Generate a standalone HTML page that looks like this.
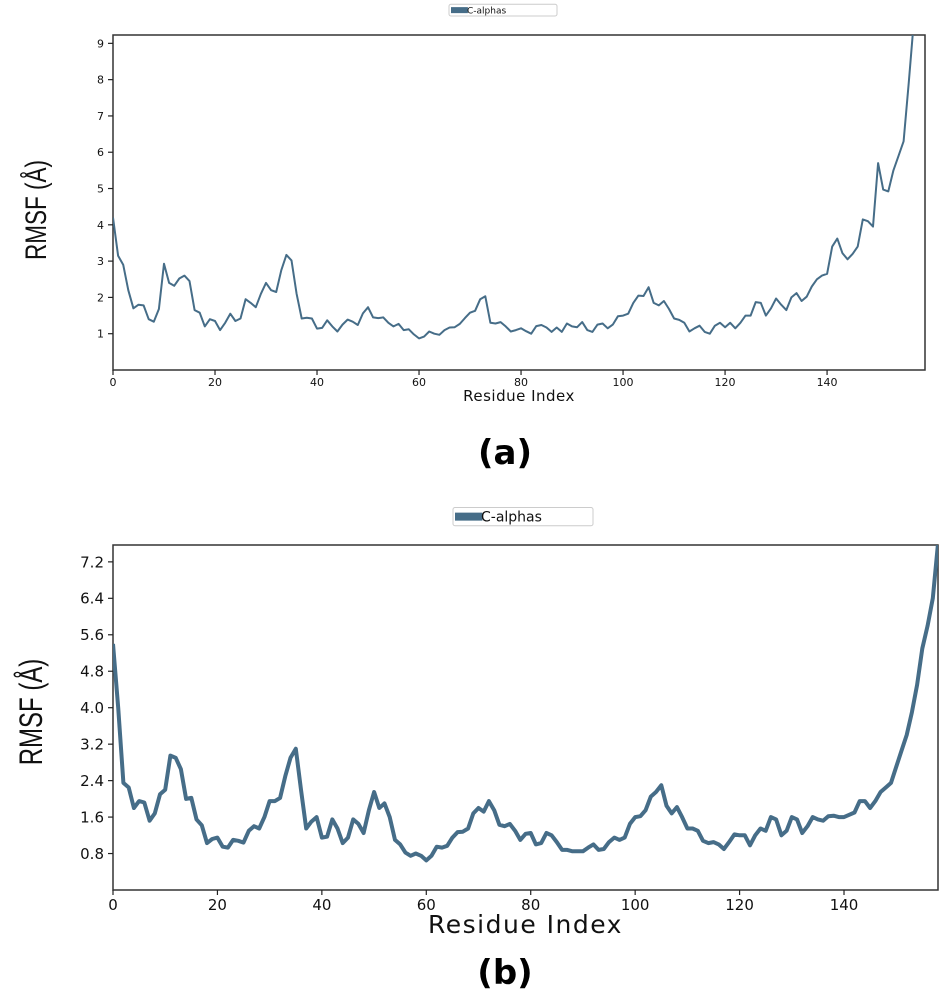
<!DOCTYPE html>
<html><head><meta charset="utf-8"><style>
body{margin:0;background:#fff;width:952px;height:998px;overflow:hidden}
svg{display:block;font-family:"DejaVu Sans","Liberation Sans",sans-serif}
</style></head><body>
<svg id="s" width="952" height="998">
<defs>
<clipPath id="ca"><rect x="113" y="35" width="812" height="335"/></clipPath>
<clipPath id="cb"><rect x="113" y="545" width="825" height="345"/></clipPath>
</defs>
<g id="ga"></g>
<g id="gb"></g>
<text x="505" y="464" font-size="34" font-weight="bold" text-anchor="middle">(a)</text>
<text x="505" y="984" font-size="34" font-weight="bold" text-anchor="middle">(b)</text>
</svg>
<script>
const seriesA=[4.2,3.15,2.9,2.2,1.7,1.8,1.78,1.4,1.33,1.68,2.93,2.4,2.32,2.52,2.6,2.45,1.65,1.58,1.2,1.4,1.35,1.1,1.3,1.55,1.35,1.42,1.95,1.85,1.73,2.1,2.4,2.2,2.15,2.75,3.17,3.02,2.1,1.42,1.44,1.42,1.14,1.16,1.37,1.2,1.06,1.25,1.39,1.33,1.24,1.56,1.73,1.45,1.43,1.45,1.3,1.2,1.27,1.1,1.12,0.98,0.87,0.92,1.06,1.0,0.97,1.1,1.17,1.18,1.27,1.43,1.58,1.63,1.95,2.03,1.3,1.28,1.32,1.2,1.06,1.1,1.15,1.07,1.0,1.21,1.24,1.17,1.05,1.17,1.05,1.28,1.2,1.18,1.32,1.1,1.05,1.25,1.28,1.15,1.25,1.48,1.5,1.55,1.85,2.05,2.04,2.28,1.85,1.78,1.9,1.68,1.42,1.38,1.3,1.06,1.15,1.22,1.05,1.0,1.22,1.3,1.18,1.3,1.15,1.3,1.5,1.5,1.87,1.85,1.5,1.7,1.97,1.8,1.65,2.0,2.12,1.9,2.02,2.3,2.5,2.6,2.65,3.4,3.62,3.22,3.05,3.2,3.4,4.15,4.1,3.95,5.7,4.97,4.92,5.5,5.9,6.3,7.9,9.6];
const seriesB=[5.4,4.0,2.35,2.25,1.8,1.95,1.92,1.52,1.68,2.1,2.2,2.95,2.9,2.65,2.0,2.02,1.55,1.42,1.03,1.12,1.15,0.95,0.93,1.1,1.08,1.04,1.3,1.4,1.35,1.6,1.95,1.95,2.02,2.5,2.9,3.1,2.2,1.35,1.5,1.6,1.15,1.17,1.55,1.35,1.03,1.15,1.55,1.45,1.25,1.75,2.15,1.8,1.9,1.6,1.1,1.0,0.82,0.75,0.8,0.75,0.65,0.75,0.95,0.93,0.97,1.15,1.27,1.28,1.35,1.68,1.8,1.72,1.95,1.75,1.43,1.4,1.45,1.3,1.1,1.23,1.25,1.0,1.03,1.25,1.2,1.05,0.88,0.88,0.85,0.85,0.85,0.93,1.0,0.88,0.9,1.05,1.15,1.1,1.15,1.45,1.6,1.62,1.75,2.05,2.15,2.3,1.85,1.68,1.82,1.6,1.35,1.35,1.3,1.08,1.03,1.05,1.0,0.9,1.05,1.22,1.2,1.2,0.98,1.2,1.35,1.3,1.6,1.55,1.2,1.3,1.6,1.55,1.25,1.4,1.6,1.55,1.52,1.62,1.63,1.6,1.6,1.65,1.7,1.95,1.95,1.8,1.95,2.15,2.25,2.35,2.7,3.05,3.4,3.9,4.5,5.3,5.8,6.4,7.6];
const xTicksA=[0,20,40,60,80,100,120,140];
const yTicksA=[1,2,3,4,5,6,7,8,9];
const xTicksB=[0,20,40,60,80,100,120,140];
const yTicksB=[0.8,1.6,2.4,3.2,4.0,4.8,5.6,6.4,7.2];
const NS="http://www.w3.org/2000/svg";
function mk(p,t,a){const e=document.createElementNS(NS,t);for(const k in a)e.setAttribute(k,a[k]);p.appendChild(e);return e;}
function draw(g,cfg){
  const {L,T,R,B,xmin,xmax,ymin,ymax,data,xt,yt,fs,tfs,lw,clip,dec,legY,legX,legFs}=cfg;
  const X=v=>L+((v-xmin)/(xmax-xmin))*(R-L), Y=v=>B-(v-ymin)/(ymax-ymin)*(B-T);
  const fr=mk(g,'rect',{x:L,y:T,width:R-L,height:B-T,fill:'none',stroke:'#333','stroke-width':1.5});
  
  
  xt.forEach(v=>{
    mk(g,'line',{x1:X(v),x2:X(v),y1:B,y2:B+5,stroke:'#222','stroke-width':1.2});
    const t=mk(g,'text',{x:X(v),y:B+5+fs,'font-size':fs,'text-anchor':'middle',fill:'#111'});
    t.textContent=v;
    
    
  });
  yt.forEach(v=>{
    mk(g,'line',{x1:L-5,x2:L,y1:Y(v),y2:Y(v),stroke:'#222','stroke-width':1.2});
    const t=mk(g,'text',{x:L-9,y:Y(v)+fs*0.36,'font-size':fs,'text-anchor':'end',fill:'#111'});
    t.textContent=v.toFixed(dec);
    
    
  });
  const pts=data.map((v,i)=>X(i).toFixed(1)+','+Y(v).toFixed(1)).join(' ');
  const pl=mk(g,'polyline',{points:pts,fill:'none',stroke:'#466d88','stroke-width':lw,'stroke-linejoin':'round','clip-path':'url(#'+clip+')'});
  
  
  const xl=mk(g,'text',{x:(L+R)/2,y:cfg.xtY,'font-size':tfs,'text-anchor':'middle',fill:'#111','letter-spacing':cfg.ls});
  xl.textContent='Residue Index';
  
  
  const yl=mk(g,'text',{x:0,y:0,'font-size':cfg.yfs,'text-anchor':'middle',fill:'#111',transform:`translate(${cfg.ytX},${cfg.ytY}) rotate(-90) scale(0.75,1)`,'font-family':'"Liberation Sans",sans-serif'});
  yl.textContent='RMSF (Å)';
  
  
  const lg=mk(g,'g',{});
  
  
  const lw2=cfg.legW;
  mk(lg,'rect',{x:legX,y:legY-legFs*0.75,width:lw2,height:legFs*1.3,fill:'#fff',stroke:'#ccc','stroke-width':1,rx:2});
  mk(lg,'line',{x1:legX+2,x2:legX+legFs*2.1,y1:legY-legFs*0.1,y2:legY-legFs*0.1,stroke:'#466d88','stroke-width':cfg.legLw});
  const lt=mk(lg,'text',{x:legX+legFs*2.0,y:legY+legFs*0.25,'font-size':legFs,fill:'#111'});
  lt.textContent='C-alphas';
}
draw(document.getElementById('ga'),{L:113,T:35,R:925,B:370,xmin:0,xmax:159.2,ymin:0,ymax:9.23,data:seriesA,xt:xTicksA,yt:yTicksA,fs:11,tfs:15,lw:2,clip:'ca',dec:0,xtY:401,ls:0.5,yfs:30,ytX:46,ytY:210,legX:449,legY:11,legFs:9,legW:108,legLw:6});
draw(document.getElementById('gb'),{L:113,T:545,R:938,B:890,xmin:0,xmax:158,ymin:0,ymax:7.57,data:seriesB,xt:xTicksB,yt:yTicksB,fs:15,tfs:25,lw:4,clip:'cb',dec:1,xtY:933,ls:1.5,yfs:32,ytX:42,ytY:712,legX:453,legY:518,legFs:14,legW:140,legLw:8});
</script>
</body></html>
